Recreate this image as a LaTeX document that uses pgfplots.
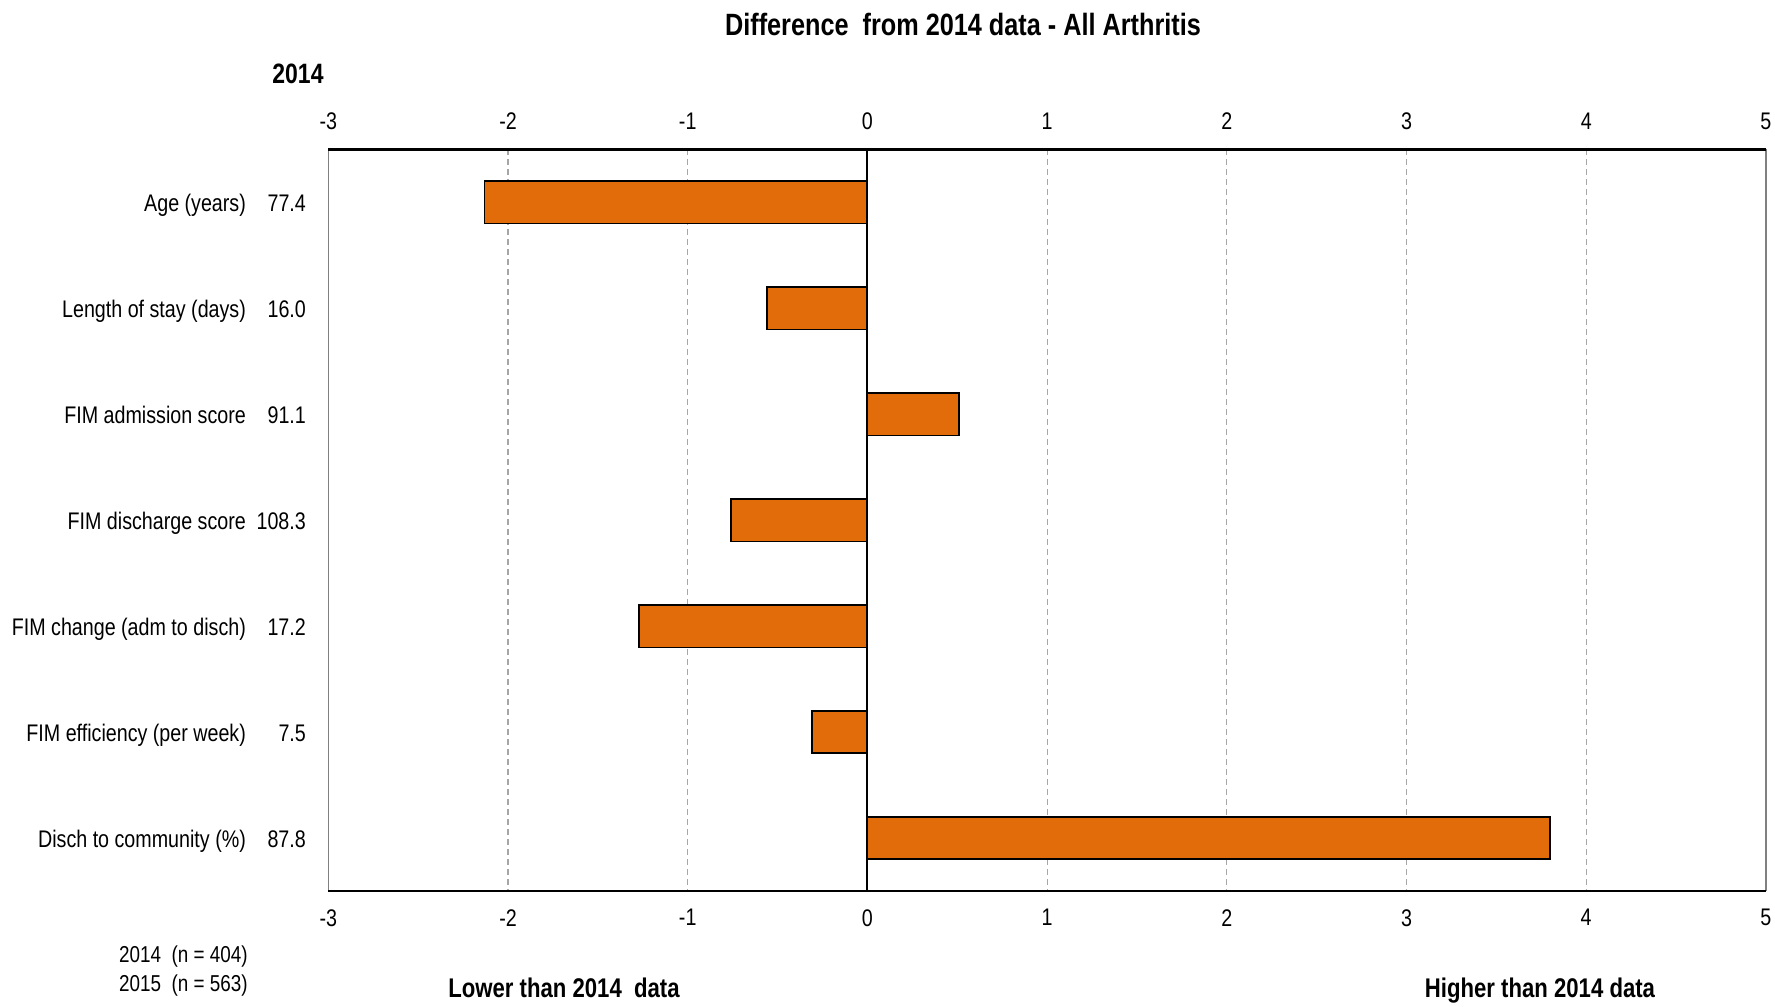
\documentclass[border=0pt]{standalone}
\usepackage{fontspec}
\setmainfont{Liberation Sans}[FakeStretch=0.82]
\usepackage{pgfplots}
\pgfplotsset{compat=1.18}
\definecolor{barorange}{HTML}{E36C0A}
\definecolor{gridgray}{HTML}{A6A6A6}
\definecolor{bordergray}{HTML}{808080}
\begin{document}
\begin{tikzpicture}
\path[use as bounding box] (0,0) rectangle (887.5pt,503pt);
\begin{axis}[
  at={(164.15pt,57.5pt)}, anchor=south west,
  scale only axis,
  width=718.8pt, height=370.8pt,
  xmin=-3, xmax=5,
  ymin=-0.5, ymax=6.5,
  y dir=reverse,
  xbar, bar width=0.4,
  xtick={-3,-2,-1,0,1,2,3,4,5},
  xticklabels={-3,-2,-1,0,1,2,3,4,5},
  ytick={0,1,2,3,4,5,6},
  yticklabels={
    {Age (years)\makebox[30pt][r]{77.4}},
    {Length of stay (days)\makebox[30pt][r]{16.0}},
    {FIM admission score\makebox[30pt][r]{91.1}},
    {FIM discharge score\makebox[30pt][r]{108.3}},
    {FIM change (adm to disch)\makebox[30pt][r]{17.2}},
    {FIM efficiency (per week)\makebox[30pt][r]{7.5}},
    {Disch to community (\%)\makebox[30pt][r]{87.8}}},
  major tick length=0pt,
  xmajorgrids,
  grid style={gridgray, line width=0.6pt, dash pattern=on 3pt off 2pt},
  axis line style={draw=none},
  xticklabel style={font=\fontsize{12}{14}\selectfont, inner sep=0pt, yshift=-9pt},
  yticklabel style={font=\fontsize{12}{14}\selectfont, anchor=base east, inner sep=0pt, xshift=-11pt, yshift=-4.8pt},
  clip=false,
]
\addplot[fill=barorange, draw=black, line width=0.8pt] coordinates {
  (-2.13,0) (-0.56,1) (0.51,2) (-0.76,3) (-1.27,4) (-0.31,5) (3.80,6)
};
\draw[black, line width=1pt] (axis cs:0,-0.5) -- (axis cs:0,6.5);
\draw[bordergray, line width=0.8pt] (rel axis cs:0,0) -- (rel axis cs:0,1);
\draw[bordergray, line width=0.8pt] (rel axis cs:1,0) -- (rel axis cs:1,1);
\draw[black, line width=1.2pt] (rel axis cs:0,0) -- (rel axis cs:1,0);
\draw[black, line width=1.2pt] (rel axis cs:0,1) -- (rel axis cs:1,1);
\end{axis}
\begin{axis}[
  at={(164.15pt,57.5pt)}, anchor=south west,
  scale only axis,
  width=718.8pt, height=370.8pt,
  xmin=-3, xmax=5, ymin=0, ymax=1,
  hide y axis,
  axis line style={draw=none},
  major tick length=0pt,
  xtick={-3,-2,-1,0,1,2,3,4,5},
  xticklabels={-3,-2,-1,0,1,2,3,4,5},
  xticklabel pos=upper,
  xticklabel style={font=\fontsize{12}{14}\selectfont, inner sep=0pt, yshift=9.7pt},
]
\end{axis}
\node[font=\fontsize{15.4}{18}\selectfont\bfseries, anchor=base, inner sep=0pt] at (481.5pt,485.2pt) {Difference\ \ from 2014 data - All Arthritis};
\node[font=\fontsize{14}{16}\selectfont\bfseries] at (149pt,466pt) {2014};
\node[font=\fontsize{11.5}{13}\selectfont, anchor=east, inner sep=0pt] at (124pt,24.5pt) {2014\ \ (n = 404)};
\node[font=\fontsize{11.5}{13}\selectfont, anchor=east, inner sep=0pt] at (124pt,10pt) {2015\ \ (n = 563)};
\node[font=\fontsize{13.5}{16}\selectfont\bfseries, anchor=base, inner sep=0pt] at (282pt,4.5pt) {Lower than 2014\ \ data};
\node[font=\fontsize{13.5}{16}\selectfont\bfseries, anchor=base, inner sep=0pt] at (770pt,4.5pt) {Higher than 2014 data};
\end{tikzpicture}
\end{document}
